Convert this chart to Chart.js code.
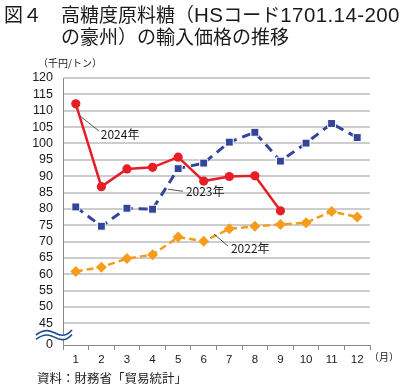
<!DOCTYPE html>
<html lang="ja">
<head>
<meta charset="utf-8">
<script src="https://cdn.jsdelivr.net/npm/chart.js@4/dist/chart.umd.min.js"></script>
<style>
    html, body { margin: 0; padding: 0; background: #fff; }
    #wrap { position: relative; width: 420px; height: 388px; overflow: hidden; font-family: "Noto Sans CJK JP", sans-serif; color: #1a1a1a; }
    #wrap canvas { position: absolute; left: 0; top: 0; }
    .title { position: absolute; font-family: "Liberation Sans", "Noto Sans CJK JP", sans-serif; font-size: 19px; line-height: 22px; white-space: nowrap; }
    .title .lat { font-size: 20.5px; letter-spacing: 0.4px; }
    .unit { position: absolute; left: 38px; top: 55px; font-size: 10px; white-space: nowrap; }
    .month { position: absolute; left: 369px; top: 349px; font-size: 10px; white-space: nowrap; }
    .source { position: absolute; left: 37px; top: 368px; font-size: 12.5px; white-space: nowrap; }
</style>
</head>
<body>
<div id="wrap">
    <canvas id="priceChart" width="420" height="388"></canvas>
    <div class="title" style="left:4px; top:4px;">図４　高糖度原料糖（<span class="lat">HS</span>コード<span class="lat">1701.14-200</span></div>
    <div class="title" style="left:61px; top:27px;">の豪州）の輸入価格の推移</div>
    <div class="unit">（千円/トン）</div>
    <div class="month">（月）</div>
    <div class="source">資料：財務省「貿易統計」</div>
</div>
<script>
// data
const months = ["1", "2", "3", "4", "5", "6", "7", "8", "9", "10", "11", "12"]
const price2022 = [60.9, 62.2, 64.8, 66.0, 71.4, 70.1, 73.9, 74.7, 75.2, 75.8, 79.2, 77.5]
const price2023 = [80.6, 74.7, 80.2, 79.9, 92.3, 94.0, 100.4, 103.4, 94.6, 100.1, 106.1, 101.8]
const price2024 = [112.1, 86.8, 92.2, 92.7, 95.8, 88.5, 89.9, 90.1, 79.4]
const yTicks = [45, 50, 55, 60, 65, 70, 75, 80, 85, 90, 95, 100, 105, 110, 115, 120]
const yBottom = 38.4   // broken axis, drawn as "0"

;(function() {
    "use strict"

    const colors = {
        red: "#e61e26",
        blue: "#33449b",
        orange: "#f59c1a",
        grid: "#cdcdcd",
        axis: "#8a8a8a",
        text: "#1a1a1a"
    }

    // leader lines + year labels, anchored on data points
    const labelPlugin = {
        id: "yearLabels",
        afterDatasetsDraw: (chart) => {
            const ctx = chart.ctx
            const x = chart.scales.x
            const y = chart.scales.y
            const notes = [
                { text: "2024年", i: 0, v: price2024[0], from: [4, 12], to: [23, 27], tx: 25, ty: 31 },
                { text: "2023年", i: 3.6, v: 86, from: [0, 0], to: [15, 2], tx: 18, ty: 2 },
                { text: "2022年", i: 5.4, v: 72.3, from: [0, 0], to: [14, 12], tx: 17, ty: 14 }
            ]
            ctx.save()
            ctx.strokeStyle = "#555"
            ctx.lineWidth = 1
            ctx.fillStyle = colors.text
            ctx.font = "12px 'Noto Sans CJK JP'"
            ctx.textBaseline = "middle"
            notes.forEach(n => {
                const px = x.getPixelForValue(n.i)
                const py = y.getPixelForValue(n.v)
                ctx.beginPath()
                ctx.moveTo(px + n.from[0], py + n.from[1])
                ctx.lineTo(px + n.to[0], py + n.to[1])
                ctx.stroke()
                ctx.fillText(n.text, px + n.tx, py + n.ty)
            })
            ctx.restore()
        },
        afterDraw: (chart) => {
            // wavy break marks on the y axis
            const ctx = chart.ctx
            const area = chart.chartArea
            const y = chart.scales.y
            const mid = (y.getPixelForValue(45) + area.bottom) / 2 + 1
            const x0 = area.left - 27, x1 = area.left + 9
            const wave = (dy) => {
                ctx.beginPath()
                ctx.moveTo(x0, mid + dy + 2)
                ctx.bezierCurveTo(x0 + 9, mid + dy - 5, x0 + 15, mid + dy - 2, x0 + 19, mid + dy)
                ctx.bezierCurveTo(x0 + 24, mid + dy + 3, x0 + 30, mid + dy + 4, x1, mid + dy - 3)
                ctx.stroke()
            }
            ctx.save()
            ctx.strokeStyle = "#fff"
            ctx.lineWidth = 5
            wave(0)
            ctx.strokeStyle = "#1f4e8f"
            ctx.lineWidth = 1.6
            wave(-2.2)
            wave(2.2)
            ctx.restore()
        }
    }

    const chartUI = (function() {
        return {
            render: () => {
                const ctx = document.getElementById("priceChart")
                return new Chart(ctx, {
                    type: "line",
                    data: {
                        labels: months,
                        datasets: [{
                            label: "2022年",
                            data: price2022,
                            borderColor: colors.orange,
                            backgroundColor: colors.orange,
                            borderWidth: 2.5,
                            borderDash: [7, 4],
                            pointStyle: "rectRot",
                            pointRadius: 5.5,
                            pointBorderColor: colors.orange,
                            pointBorderWidth: 0
                        }, {
                            label: "2023年",
                            data: price2023,
                            borderColor: colors.blue,
                            backgroundColor: colors.blue,
                            borderWidth: 3,
                            borderDash: [9, 6],
                            pointStyle: "rect",
                            pointRadius: 5.6,
                            pointBorderColor: "#fff",
                            pointBorderWidth: 1
                        }, {
                            label: "2024年",
                            data: price2024,
                            borderColor: colors.red,
                            backgroundColor: colors.red,
                            borderWidth: 2.5,
                            pointStyle: "circle",
                            pointRadius: 4.6,
                            pointBorderColor: colors.red,
                            pointBorderWidth: 0
                        }]
                    },
                    options: {
                        responsive: false,
                        animation: false,
                        layout: { padding: { top: 78, right: 50, left: 0, bottom: 0 } },
                        plugins: { legend: { display: false }, tooltip: { enabled: false } },
                        scales: {
                            x: {
                                offset: true,
                                afterFit: s => { s.height = 43 },
                                grid: {
                                    offset: true,
                                    drawOnChartArea: false,
                                    drawTicks: true,
                                    tickLength: 5,
                                    color: colors.axis
                                },
                                border: { color: colors.axis, width: 1 },
                                ticks: {
                                    color: colors.text,
                                    padding: 3,
                                    maxRotation: 0,
                                    autoSkip: false,
                                    font: { family: "'Liberation Sans'", size: 11.5 }
                                }
                            },
                            y: {
                                min: yBottom,
                                max: 120,
                                afterFit: s => { s.width = 63 },
                                afterBuildTicks: s => {
                                    s.ticks = [yBottom].concat(yTicks).map(v => ({ value: v }))
                                },
                                grid: {
                                    drawTicks: false,
                                    lineWidth: 2,
                                    color: c => c.tick && c.tick.value < 45 ? "rgba(0,0,0,0)" : colors.grid
                                },
                                border: { color: colors.axis, width: 1 },
                                ticks: {
                                    color: colors.text,
                                    padding: 10,
                                    autoSkip: false,
                                    font: { family: "'Liberation Sans'", size: 12.5 },
                                    callback: v => v < 45 ? "0" : String(v)
                                }
                            }
                        }
                    },
                    plugins: [labelPlugin]
                })
            }
        }
    })()

    chartUI.render()
})()
</script>
</body>
</html>
